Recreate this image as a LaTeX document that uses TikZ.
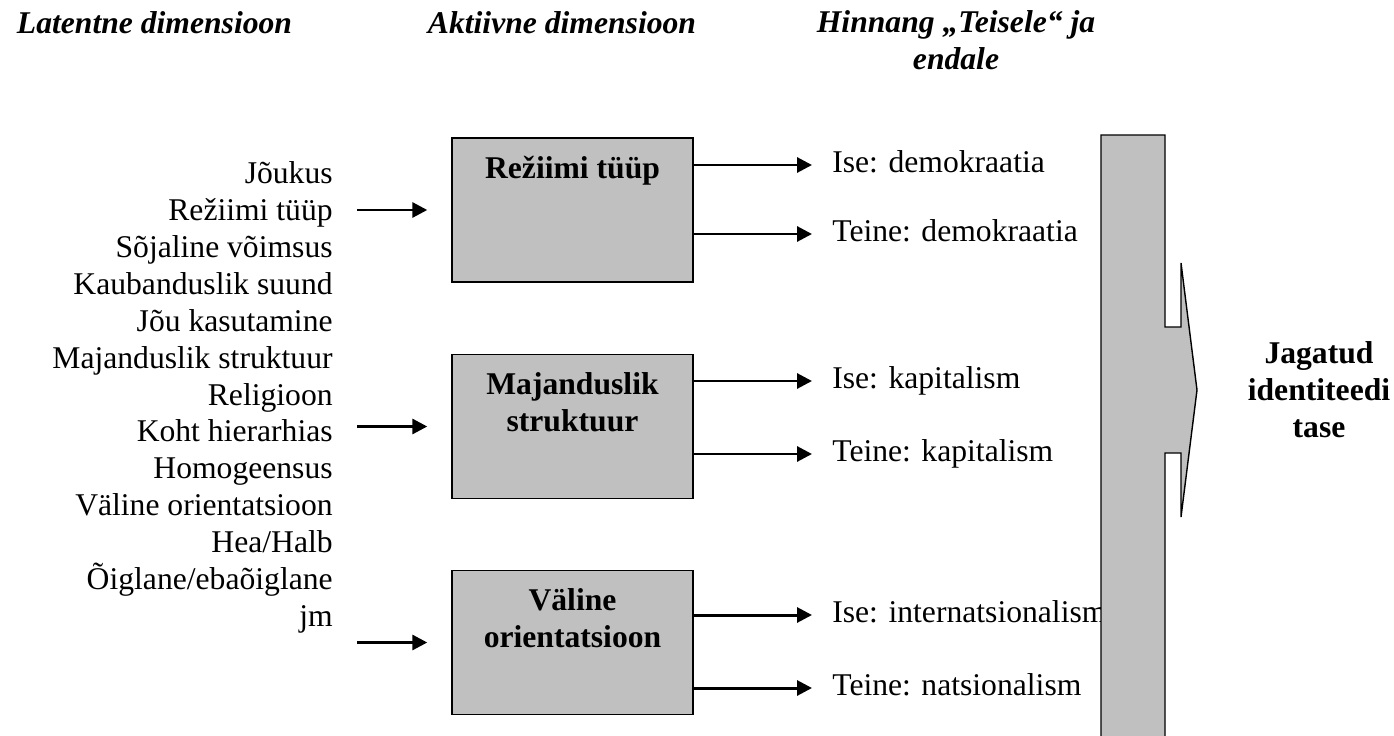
\documentclass[tikz,border=0pt]{standalone}
\usepackage{fontspec}
\setmainfont{Liberation Serif}
\usepackage{tikz}
\usetikzlibrary{arrows.meta, positioning, calc}
\definecolor{boxgray}{HTML}{C0C0C0}
\tikzset{
  dimbox/.style={rectangle, draw=black, line width=0.8pt, fill=boxgray,
    minimum width=4.82cm, minimum height=2.88cm, inner sep=0pt},
  boxlbl/.style={font=\fontsize{18}{21}\selectfont\bfseries, align=center, inner sep=0pt},
  hdr/.style={font=\fontsize{18}{20.5}\selectfont\bfseries\itshape, align=center, inner sep=0pt, anchor=base},
  lst/.style={font=\fontsize{18}{21}\selectfont, align=right, inner sep=0pt, anchor=base east},
  outl/.style={font=\fontsize{18}{21}\selectfont, anchor=west, inner sep=0pt,
    text height=0.43cm, text depth=0.14cm},
  res/.style={font=\fontsize{18}{21}\selectfont\bfseries, align=center, inner sep=0pt},
  ar/.style={-{Triangle[length=0.3cm, width=0.3cm]}, line width=1.7pt},
}

\begin{document}
\begin{tikzpicture}
\useasboundingbox (0,0) rectangle (27.88,-14.72);

\node[hdr] (H1) at (3.09,-0.66) {Latentne dimensioon};
\node[hdr] (H2) at (11.24,-0.66) {Aktiivne dimensioon};
\node[hdr] (H3) at (19.12,-1.38) {Hinnang „Teisele“ ja\\endale};

\node[lst] (LD) at (6.66,-12.53) {Jõukus\\Režiimi tüüp\\Sõjaline võimsus\\Kaubanduslik suund\\Jõu kasutamine\\Majanduslik struktuur\\Religioon\\Koht hierarhias\\Homogeensus\\Väline orientatsioon\\Hea/Halb\\Õiglane/ebaõiglane\\jm};

\node[dimbox] (BR) at (11.45,-4.20) {};
\node[dimbox] (BM) at (11.45,-8.53) {};
\node[dimbox] (BV) at (11.45,-12.85) {};
\node[boxlbl, below=0.83cm of BR.north, anchor=base] (TR) {Režiimi tüüp};
\node[boxlbl, below=1.56cm of BM.north, anchor=base] (TM) {Majanduslik\\struktuur};
\node[boxlbl, below=1.56cm of BV.north, anchor=base] (TV) {Väline\\orientatsioon};

\node[outl] (RS) at (16.64,-3.30) {Ise: demokraatia};
\node[outl] (RO) at (16.64,-4.68) {Teine: demokraatia};
\node[outl] (MS) at (16.64,-7.62) {Ise: kapitalism};
\node[outl] (MO) at (16.64,-9.08) {Teine: kapitalism};
\node[outl] (VS) at (16.64,-12.30) {Ise: internatsionalism};
\node[outl] (VO) at (16.64,-13.76) {Teine: natsionalism};

\node[res] (JI) at (26.38,-7.80) {Jagatud\\identiteedi\\tase};

\draw[line width=0.8pt, fill=boxgray] (22.02,-14.9) -- (22.02,-2.70) -- (23.30,-2.70) -- (23.30,-6.54)
  -- (23.62,-6.54) -- (23.62,-5.26) -- (23.94,-7.80) -- (23.62,-10.34) -- (23.62,-9.06)
  -- (23.30,-9.06) -- (23.30,-14.9) -- cycle;

\coordinate (inR) at (7.14,-4.20);
\coordinate (inM) at (7.14,-8.53);
\coordinate (inV) at (7.14,-12.85);
\draw[ar, shorten >=0.48cm] (inR) -- (BR.west);
\draw[ar, shorten >=0.48cm] (inM) -- (BM.west);
\draw[ar, shorten >=0.48cm] (inV) -- (BV.west);

\draw[ar, shorten >=0.4cm] (BR.east |- RS.west) -- (RS.west);
\draw[ar, shorten >=0.4cm] (BR.east |- RO.west) -- (RO.west);
\draw[ar, shorten >=0.4cm] (BM.east |- MS.west) -- (MS.west);
\draw[ar, shorten >=0.4cm] (BM.east |- MO.west) -- (MO.west);
\draw[ar, shorten >=0.4cm] (BV.east |- VS.west) -- (VS.west);
\draw[ar, shorten >=0.4cm] (BV.east |- VO.west) -- (VO.west);
\end{tikzpicture}
\end{document}
